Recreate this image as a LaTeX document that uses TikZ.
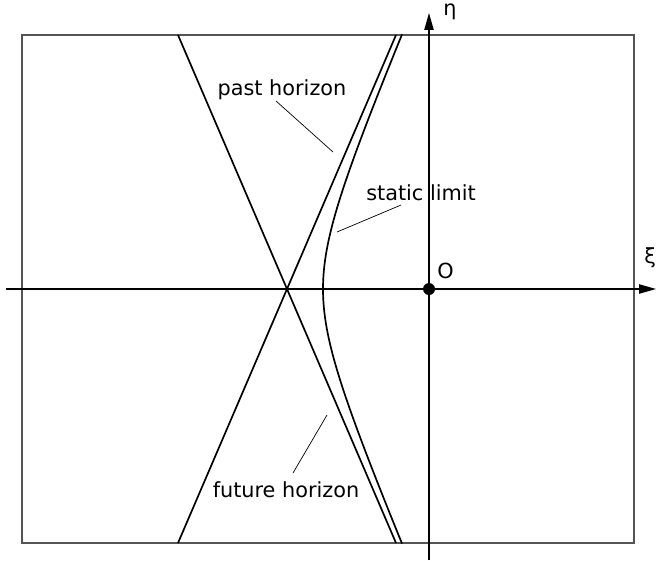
\documentclass[tikz,border=0pt]{standalone}
\usepackage{fontspec}
\setmainfont{DejaVu Sans}
\usetikzlibrary{arrows.meta}
\definecolor{frmgray}{HTML}{555555}

\tikzset{
  axisline/.style={line width=0.9pt,-{Triangle[length=4.2mm,width=2.3mm]}},
  horizon/.style={line width=1.2pt},
  leader/.style={line width=0.5pt},
  lbl/.style={inner sep=0pt,anchor=base,font=\fontsize{14.8}{17}\selectfont}
}

\begin{document}
\begin{tikzpicture}[x=0.025cm,y=-0.025cm]
  \useasboundingbox (0,0) rectangle (656,560);
  \draw[frmgray,line width=0.8pt] (22,35) rectangle (634,543);
  % axes
  \coordinate (xl) at (6,289);
  \coordinate (xr) at (656,289);
  \coordinate (yb) at (429,560);
  \coordinate (yt) at (429,13);
  \draw[axisline] (xl) -- (xr);
  \draw[axisline] (yb) -- (yt);
  \node[circle,fill,inner sep=0pt,minimum size=3mm] (O) at (429,289) {};
  \node[lbl,anchor=base west] (Olbl) at (437,278) {O};
  \node[lbl] (eta) at (450,15) {η};
  \node[lbl,anchor=base west] (xi) at (644,263) {ξ};
  % horizons
  \coordinate (phbot) at (178,543);
  \coordinate (phtop) at (396,35);
  \coordinate (fhtop) at (178,35);
  \coordinate (fhbot) at (396,543);
  \draw[horizon] (phbot) -- (phtop);
  \draw[horizon] (fhtop) -- (fhbot);
  % static limit
  \draw[horizon] plot[domain=-1.83:1.83,samples=60,smooth]
    ({287+36*cosh(\x)},{289+83.9*sinh(\x)});
  % labels
  \node[lbl] (past) at (282,95) {past horizon};
  \node[lbl,anchor=base west] (static) at (366,200) {static limit};
  \node[lbl] (future) at (286,497) {future horizon};
  \coordinate (pastA) at (276,101);
  \coordinate (pastB) at (333,152);
  \coordinate (staticA) at (401,205);
  \coordinate (staticB) at (337,232);
  \coordinate (futureA) at (293,473);
  \coordinate (futureB) at (327,415);
  \draw[leader] (pastA) -- (pastB);
  \draw[leader] (staticA) -- (staticB);
  \draw[leader] (futureA) -- (futureB);
\end{tikzpicture}
\end{document}
